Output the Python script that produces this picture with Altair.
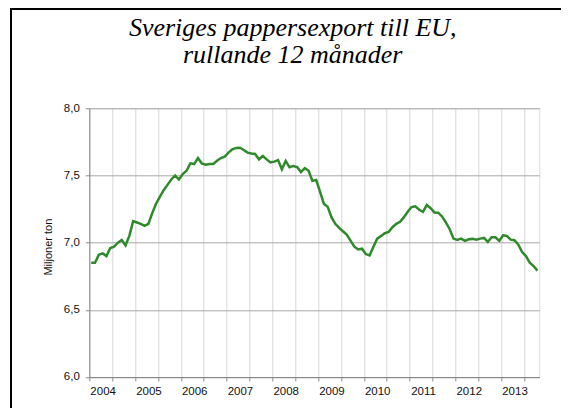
import json
import altair as alt
import pandas as pd

# Monthly rolling-12-month paper export to the EU (million tonnes),
# first category = October 2003, last = July 2013
values = [
    6.85, 6.85, 6.91, 6.92, 6.90, 6.96, 6.97, 7.00, 7.02, 6.98,
    7.05, 7.16, 7.15, 7.14, 7.125, 7.14, 7.22, 7.29, 7.34, 7.39,
    7.43, 7.47, 7.50, 7.47, 7.51, 7.535, 7.59, 7.585, 7.63, 7.59,
    7.58, 7.585, 7.585, 7.61, 7.63, 7.64, 7.67, 7.695, 7.705, 7.707,
    7.69, 7.67, 7.663, 7.66, 7.62, 7.645, 7.62, 7.597, 7.603, 7.615,
    7.546, 7.608, 7.561, 7.571, 7.563, 7.525, 7.554, 7.535, 7.46, 7.466,
    7.379, 7.29, 7.268, 7.19, 7.14, 7.11, 7.085, 7.06, 7.015, 6.97,
    6.95, 6.955, 6.915, 6.905, 6.97, 7.03, 7.05, 7.07, 7.08, 7.115,
    7.14, 7.155, 7.19, 7.23, 7.265, 7.27, 7.245, 7.23, 7.28, 7.256,
    7.225, 7.223, 7.195, 7.15, 7.10, 7.03, 7.02, 7.03, 7.013, 7.025,
    7.028, 7.022, 7.03, 7.035, 7.005, 7.04, 7.04, 7.013, 7.055, 7.05,
    7.022, 7.018, 6.985, 6.93, 6.90, 6.85, 6.826, 6.792,
]
year_labels = ["2004", "2005", "2006", "2007", "2008",
               "2009", "2010", "2011", "2012", "2013"]
y_ticks = [6.0, 6.5, 7.0, 7.5, 8.0]
title_lines = ["Sveriges pappersexport till EU,", "rullande 12 månader"]
y_title = "Miljoner ton"

n = len(values)
df = pd.DataFrame({"pos": [i + 0.5 for i in range(n)], "value": values})

W, H = 450, 268.7
month_px = W / n
grid_vals = list(range(0, n, 6))

x_axis = alt.Axis(
    values=grid_vals,
    grid=True,
    gridColor="#d6d6d6",
    gridWidth=1,
    domainColor="#8a8a8a",
    tickColor="#8a8a8a",
    tickSize=4,
    labelExpr=f"datum.value % 12 === 0 ? {json.dumps(year_labels)}[datum.value / 12] : ''",
    labelOffset=3.5 * month_px,
    labelFlush=False,
    labelOverlap=False,
    labelPadding=5,
    labelFont="Liberation Sans",
    labelFontSize=11.5,
    labelColor="#111111",
    title=None,
)

y_axis = alt.Axis(
    values=y_ticks,
    grid=True,
    gridColor="#a8a8a8",
    gridWidth=1,
    domainColor="#8a8a8a",
    tickColor="#8a8a8a",
    tickSize=4,
    format=".1f",
    labelExpr="replace(datum.label, '.', ',')",
    labelPadding=6,
    labelFont="Liberation Sans",
    labelFontSize=11.5,
    labelColor="#111111",
    title=y_title,
    titleFont="Liberation Sans",
    titleFontSize=11,
    titleFontWeight="normal",
    titleColor="#111111",
    titleX=-36,
    titleY=H / 2 + 4,
    titleAlign="center",
    titleBaseline="bottom",
)

line = alt.Chart(df).mark_line(color="#2e8a2a", strokeWidth=2.5).encode(
    x=alt.X("pos:Q", scale=alt.Scale(domain=[0, n], nice=False, zero=False), axis=x_axis),
    y=alt.Y("value:Q", scale=alt.Scale(domain=[6.0, 8.0], nice=False, zero=False), axis=y_axis),
)

frame_data = alt.Data(values=[{}])
left_border = alt.Chart(frame_data).mark_rule(color="black", strokeWidth=2).encode(
    x=alt.value(-78.3), y=alt.value(-100.3), y2=alt.value(320)
)
top_border = alt.Chart(frame_data).mark_rule(color="black", strokeWidth=2).encode(
    x=alt.value(-79.3), x2=alt.value(480), y=alt.value(-99.3)
)
title = alt.Chart(frame_data).mark_text(
    font="Liberation Serif",
    fontSize=26,
    fontStyle="italic",
    color="black",
    align="center",
    baseline="alphabetic",
    lineHeight=26.5,
).encode(
    x=alt.value(203.4), y=alt.value(-71.9), text=alt.value(title_lines)
)

chart = alt.layer(line, left_border, top_border, title).properties(
    width=W,
    height=H,
    autosize="none",
    padding={"left": 81.3, "top": 100.3, "right": 22, "bottom": 31},
).configure_view(stroke="#a8a8a8", strokeWidth=1).configure(background="white")

chart.save("out.html", embed_options={"renderer": "svg", "actions": False})
